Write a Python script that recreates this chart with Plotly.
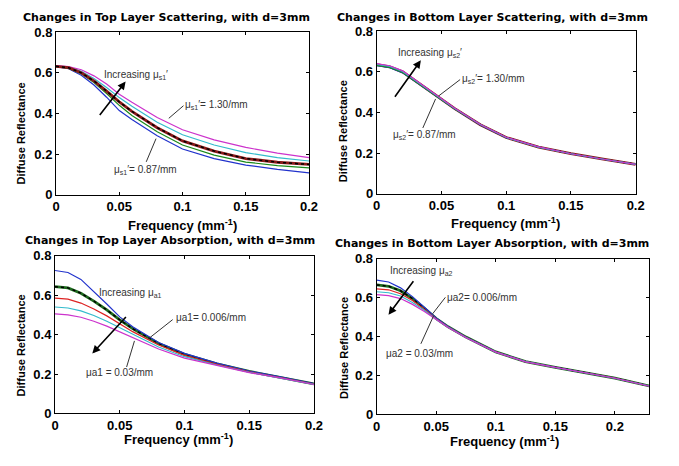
import plotly.graph_objects as go

W, H = 679, 466

# ---------------- data ----------------
freq = [0, 0.01, 0.02, 0.03, 0.04, 0.05, 0.06, 0.08, 0.1, 0.125, 0.15, 0.175, 0.2]

# Top layer scattering (mu_s1' from 0.87 to 1.30 /mm)
ts_blue    = [0.630, 0.620, 0.588, 0.540, 0.480, 0.414, 0.370, 0.290, 0.225, 0.178, 0.146, 0.125, 0.108]
ts_green   = [0.630, 0.622, 0.595, 0.552, 0.498, 0.440, 0.390, 0.310, 0.245, 0.195, 0.161, 0.143, 0.132]
ts_red     = [0.632, 0.625, 0.600, 0.560, 0.510, 0.457, 0.410, 0.330, 0.265, 0.215, 0.178, 0.160, 0.149]
ts_cyan    = [0.633, 0.628, 0.608, 0.572, 0.528, 0.478, 0.435, 0.357, 0.295, 0.245, 0.207, 0.183, 0.166]
ts_magenta = [0.635, 0.630, 0.615, 0.585, 0.545, 0.495, 0.455, 0.380, 0.320, 0.270, 0.233, 0.205, 0.183]

# Bottom layer scattering (mu_s2')
bs_blue    = [0.630, 0.620, 0.595, 0.551, 0.506, 0.460, 0.418, 0.339, 0.276, 0.230, 0.197, 0.170, 0.145]
bs_green   = [0.632, 0.622, 0.597, 0.553, 0.508, 0.462, 0.419, 0.340, 0.277, 0.230, 0.197, 0.170, 0.145]
bs_red     = [0.635, 0.625, 0.600, 0.555, 0.510, 0.463, 0.420, 0.340, 0.277, 0.230, 0.197, 0.170, 0.145]
bs_cyan    = [0.637, 0.627, 0.602, 0.557, 0.512, 0.464, 0.421, 0.341, 0.277, 0.230, 0.197, 0.170, 0.145]
bs_magenta = [0.640, 0.630, 0.605, 0.560, 0.514, 0.466, 0.422, 0.341, 0.278, 0.231, 0.197, 0.170, 0.145]

# Top layer absorption (mu_a1 from 0.006 to 0.03 /mm)
ta_blue    = [0.725, 0.715, 0.680, 0.620, 0.555, 0.490, 0.440, 0.360, 0.305, 0.255, 0.215, 0.185, 0.152]
ta_green   = [0.643, 0.637, 0.610, 0.570, 0.525, 0.475, 0.430, 0.355, 0.300, 0.252, 0.213, 0.183, 0.150]
ta_red     = [0.585, 0.580, 0.560, 0.530, 0.495, 0.455, 0.415, 0.347, 0.295, 0.249, 0.211, 0.181, 0.149]
ta_cyan    = [0.540, 0.535, 0.520, 0.497, 0.468, 0.435, 0.400, 0.337, 0.288, 0.246, 0.209, 0.180, 0.148]
ta_magenta = [0.505, 0.500, 0.488, 0.468, 0.443, 0.415, 0.385, 0.327, 0.281, 0.243, 0.207, 0.179, 0.147]

# Bottom layer absorption (mu_a2), frequency axis as labelled in the panel
freq_b = [0, 0.01, 0.02, 0.03, 0.04, 0.05, 0.06, 0.075, 0.1, 0.125, 0.15, 0.175, 0.2, 0.229]
ba_blue    = [0.690, 0.680, 0.650, 0.605, 0.550, 0.495, 0.452, 0.398, 0.322, 0.272, 0.242, 0.215, 0.187, 0.146]
ba_green   = [0.665, 0.658, 0.635, 0.595, 0.545, 0.492, 0.450, 0.397, 0.321, 0.271, 0.242, 0.215, 0.187, 0.146]
ba_red     = [0.645, 0.640, 0.620, 0.585, 0.540, 0.490, 0.449, 0.396, 0.321, 0.271, 0.241, 0.215, 0.187, 0.146]
ba_cyan    = [0.630, 0.625, 0.608, 0.575, 0.535, 0.488, 0.448, 0.395, 0.320, 0.271, 0.241, 0.214, 0.186, 0.146]
ba_magenta = [0.615, 0.610, 0.595, 0.565, 0.528, 0.485, 0.446, 0.394, 0.320, 0.270, 0.241, 0.214, 0.186, 0.145]

x_ticks = [0, 0.05, 0.1, 0.15, 0.2]
x_tick_text = ["0", "0.05", "0.1", "0.15", "0.2"]
y_ticks = [0, 0.2, 0.4, 0.6, 0.8]
y_tick_text = ["0", "0.2", "0.4", "0.6", "0.8"]

titles = ["Changes in Top Layer Scattering, with d=3mm",
          "Changes in Bottom Layer Scattering, with d=3mm",
          "Changes in Top Layer Absorption, with d=3mm",
          "Changes in Bottom Layer Absorption, with d=3mm"]

# ---------------- layout helpers ----------------
def px(x):
    return x / W

def py(y):
    return 1 - y / H

# plot boxes in pixels: (left, right, top, bottom)
boxes = [(53, 311, 26, 194), (380, 644, 25, 193), (52, 316, 257, 420), (380, 658, 260, 421)]
xranges = [[0, 0.2], [0, 0.2], [0, 0.2], [0, 0.229]]
title_cx = [166, 498, 169, 498]
title_cy = [11, 11, 241, 244]
xtitle_cx = [182, 511, 178, 510]
xtitle_cy = [225, 223, 446, 448]
ytitle_cy = [131, 128, 350, 352]

COL = dict(b="#2233cc", g="#1a8a1a", r="#dd2222", c="#33bbcc", m="#cc33cc", dr="#8b1a1a")

fig = go.Figure()

def line_trace(xs, ys, axn, color, width, dash="solid"):
    fig.add_trace(go.Scatter(x=xs, y=ys, mode="lines", line=dict(color=color, width=width, dash=dash),
                             xaxis="x" + axn, yaxis="y" + axn, showlegend=False, hoverinfo="skip"))

def add_curves(idx, xs, series, base_idx, base_color, base_on_top):
    axn = "" if idx == 0 else str(idx + 1)
    base = series[base_idx][0]
    if not base_on_top:
        line_trace(xs, base, axn, base_color, 2.8)
        line_trace(xs, base, axn, "black", 1.5, "dot")
    for k, (ys, color) in enumerate(series):
        if k == base_idx:
            continue
        line_trace(xs, ys, axn, color, 1.2)
    if base_on_top:
        line_trace(xs, base, axn, base_color, 2.8)
        line_trace(xs, base, axn, "black", 1.5, "dot")

add_curves(0, freq, [(ts_blue, COL["b"]), (ts_green, COL["g"]), (ts_red, COL["r"]),
                     (ts_cyan, COL["c"]), (ts_magenta, COL["m"])], 2, COL["dr"], True)
add_curves(1, freq, [(bs_blue, COL["b"]), (bs_green, COL["g"]), (bs_red, COL["r"]),
                     (bs_cyan, COL["c"]), (bs_magenta, COL["m"])], 2, COL["dr"], False)
add_curves(2, freq, [(ta_blue, COL["b"]), (ta_green, COL["g"]), (ta_red, COL["r"]),
                     (ta_cyan, COL["c"]), (ta_magenta, COL["m"])], 1, "#1f6b1f", False)
add_curves(3, freq_b, [(ba_blue, COL["b"]), (ba_green, COL["g"]), (ba_red, COL["r"]),
                       (ba_cyan, COL["c"]), (ba_magenta, COL["m"])], 1, "#1f6b1f", False)

BOLD = "Liberation Sans, Arial, sans-serif"
TBOLD = "DejaVu Sans, Verdana, sans-serif"
layout = dict(width=W, height=H, margin=dict(l=0, r=0, t=0, b=0),
              paper_bgcolor="white", plot_bgcolor="white", showlegend=False)

annotations = []
for i, (l, r, t, b) in enumerate(boxes):
    n = "" if i == 0 else str(i + 1)
    layout["xaxis" + n] = dict(domain=[px(l), px(r)], range=xranges[i], anchor="y" + n,
                               tickvals=x_ticks, ticktext=x_tick_text, ticks="inside", ticklen=3,
                               tickcolor="black", showline=True, linecolor="black", linewidth=1,
                               mirror="ticks", showgrid=False, zeroline=False,
                               tickfont=dict(family=BOLD, size=13, color="black", weight="bold"))
    layout["yaxis" + n] = dict(domain=[py(b), py(t)], range=[0, 0.8], anchor="x" + n,
                               tickvals=y_ticks, ticktext=y_tick_text, ticks="inside", ticklen=3,
                               tickcolor="black", showline=True, linecolor="black", linewidth=1,
                               mirror="ticks", showgrid=False, zeroline=False,
                               tickfont=dict(family=BOLD, size=13, color="black", weight="bold"))
    annotations.append(dict(text="<b>" + titles[i] + "</b>", xref="paper", yref="paper",
                            x=px(title_cx[i]), y=py(title_cy[i]),
                            xanchor="center", yanchor="middle", showarrow=False,
                            font=dict(family=TBOLD, size=11, color="black")))
    annotations.append(dict(text="<b>Frequency (mm<sup>-1</sup>)</b>", xref="paper", yref="paper",
                            x=px(xtitle_cx[i]), y=py(xtitle_cy[i]),
                            xanchor="center", yanchor="middle", showarrow=False,
                            font=dict(family=BOLD, size=13, color="black")))
    annotations.append(dict(text="<b>Diffuse Reflectance</b>", xref="paper", yref="paper",
                            x=px(17 if i % 2 == 0 else 346), y=py(ytitle_cy[i]), textangle=-90,
                            xanchor="center", yanchor="middle", showarrow=False,
                            font=dict(family=BOLD, size=11, color="black")))

NOTE = dict(family="Liberation Sans, Arial, sans-serif", size=10, color="#333333")

def note(text, x, y):
    annotations.append(dict(text=text, xref="paper", yref="paper", x=px(x), y=py(y),
                            xanchor="left", yanchor="middle", showarrow=False, font=NOTE))

def arrow(hx, hy, tx, ty):
    annotations.append(dict(text="", xref="paper", yref="paper", x=px(hx), y=py(hy),
                            ax=tx - hx, ay=ty - hy, showarrow=True, arrowhead=2,
                            arrowsize=1, arrowwidth=1.6, arrowcolor="black"))

shapes = []

def leader(x0, y0, x1, y1):
    shapes.append(dict(type="line", xref="paper", yref="paper", x0=px(x0), y0=py(y0),
                       x1=px(x1), y1=py(y1), line=dict(color="#333333", width=1)))

# Top-left
note("Increasing μ<sub>s1</sub>′", 100, 70)
note("μ<sub>s1</sub>′= 1.30/mm", 183, 101)
note("μ<sub>s1</sub>′= 0.87/mm", 110, 168)
arrow(124, 77, 97, 112)
leader(183, 102, 168, 115)
leader(155, 136, 145, 160)

# Top-right
note("Increasing μ<sub>s2</sub>′", 400, 48)
note("μ<sub>s2</sub>′= 1.30/mm", 465, 74)
note("μ<sub>s2</sub>′= 0.87/mm", 395, 132)
arrow(425, 55, 398, 93)
leader(465, 75, 443, 92)
leader(440, 95, 427, 125)

# Bottom-left
note("Increasing μ<sub>a1</sub>", 95, 295)
note("μa1= 0.006/mm", 173, 321)
note("μa1 = 0.03/mm", 82, 378)
arrow(90, 358, 125, 320)
leader(172, 323, 147, 343)
leader(125, 372, 133, 345)

# Bottom-right
note("Increasing μ<sub>a2</sub>", 392, 273)
note("μa2= 0.006/mm", 450, 300)
note("μa2 = 0.03/mm", 387, 358)
arrow(392, 318, 418, 283)
leader(450, 300, 437, 317)
leader(425, 348, 438, 319)

layout["annotations"] = annotations
layout["shapes"] = shapes
fig.update_layout(**layout)
fig.write_html("out.html", config={"displayModeBar": False},
               post_script="document.body.style.margin='0';document.body.style.padding='0';")
